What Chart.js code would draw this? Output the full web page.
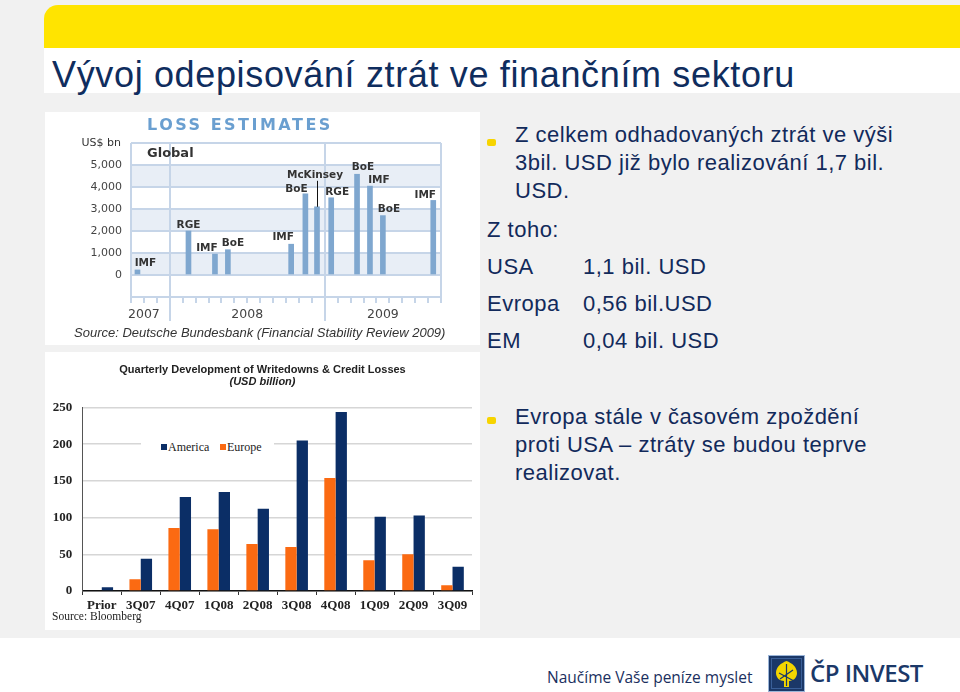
<!DOCTYPE html>
<html>
<head>
<meta charset="utf-8">
<script src="https://cdn.jsdelivr.net/npm/chart.js@4.4.1/dist/chart.umd.min.js"></script>
<style>
body{margin:0;width:960px;height:692px;background:#f1f1f1;position:relative;overflow:hidden;font-family:"Liberation Sans",Arial,sans-serif;color:#122a5b}
.abs{position:absolute}
#yellow{left:44px;top:5px;width:916px;height:43px;background:#ffe400;border-top-left-radius:14px}
#titlebar{left:44px;top:48px;width:916px;height:45px;background:#fff}
#title{left:52px;top:57px;font-size:36px;line-height:36px;letter-spacing:0.65px;white-space:nowrap;color:#0f2d5e}
#footer{left:0;top:638px;width:960px;height:54px;background:#fff}
.panel{background:#fff}
.txt{font-size:22px;letter-spacing:0.5px;white-space:nowrap}
.c1{display:inline-block;width:96px}
.bul{width:9px;height:7px;background:#f7d400;border-radius:2px}
.lossT{left:102px;top:5px;font:bold 16px/16px "DejaVu Sans";letter-spacing:2.5px;color:#6a9fd0;white-space:nowrap}
.small{font-family:"DejaVu Sans";color:#333;white-space:nowrap}
.serif{font-family:"Liberation Serif","Times New Roman",serif;color:#222;white-space:nowrap}
</style>
</head>
<body>
<div id="yellow" class="abs"></div>
<div id="titlebar" class="abs"></div>
<div id="title" class="abs">Vývoj odepisování ztrát ve finančním sektoru</div>

<!-- upper picture: loss estimates -->
<div class="abs panel" style="left:45px;top:112px;width:435px;height:233px">
  <canvas id="lossChart" width="435" height="233" class="abs" style="left:0;top:0"></canvas>
  <div class="abs lossT">LOSS ESTIMATES</div>
  <div class="abs small" style="right:359px;top:25px;font-size:11px;line-height:11px">US$ bn</div>
  <div class="abs small" style="left:102px;top:34px;font-size:13px;line-height:13px;font-weight:bold">Global</div>
  <div class="abs" style="left:29px;top:214px;font-size:13px;line-height:13px;font-style:italic;color:#333;white-space:nowrap">Source: Deutsche Bundesbank (Financial Stability Review 2009)</div>
</div>

<!-- lower picture: quarterly writedowns -->
<div class="abs panel" style="left:45px;top:352px;width:435px;height:278px">
  <canvas id="qChart" width="435" height="278" class="abs" style="left:0;top:0"></canvas>
  <div class="abs" style="left:0;top:12px;width:435px;text-align:center;font:bold 11px/11px 'Liberation Sans';color:#222">Quarterly Development of Writedowns &amp; Credit Losses</div>
  <div class="abs" style="left:0;top:24px;width:435px;text-align:center;font:italic bold 11px/11px 'Liberation Sans';color:#222">(USD billion)</div>
  <div id="legend" class="abs" style="left:96px;top:88px;width:133px;height:14px;background:#fff"></div>
  <div class="abs serif" style="left:7px;top:258px;font-size:11.5px;line-height:12px">Source: Bloomberg</div>
</div>

<!-- right text -->
<div class="abs bul" style="left:487px;top:139px"></div>
<div class="abs txt" style="left:515px;top:121px;line-height:28px">Z celkem odhadovaných ztrát ve výši<br>3bil. USD již bylo realizování 1,7 bil.<br>USD.</div>
<div class="abs txt" style="left:487px;top:211px;line-height:37px">Z toho:<br><span class="c1">USA</span>1,1 bil. USD<br><span class="c1">Evropa</span>0,56 bil.USD<br><span class="c1">EM</span>0,04 bil. USD</div>
<div class="abs bul" style="left:487px;top:417px"></div>
<div class="abs txt" style="left:515px;top:403px;line-height:28.2px">Evropa stále v časovém zpoždění<br>proti USA – ztráty se budou teprve<br>realizovat.</div>

<!-- footer -->
<div id="footer" class="abs"></div>
<div class="abs" style="left:547px;top:669px;font:15.5px/16px 'Open Sans';color:#1a2f5e;white-space:nowrap">Naučíme Vaše peníze myslet</div>
<svg class="abs" style="left:768px;top:655px" width="37" height="37" viewBox="0 0 37 37">
  <rect x="0.5" y="0.5" width="36" height="36" fill="#1b3868" stroke="#9bb5d8"/>
  <rect x="3.5" y="3.5" width="30" height="30" fill="#1b3868" stroke="#3a5f98"/>
  <path d="M18.5 6 C13 8 8 12 8 18 C8 23 12 26 16 26 L16 32 L21 32 L21 26 C25 26 29 23 29 18 C29 12 24 8 18.5 6Z" fill="#f2d500"/>
  <path d="M18.5 9 L18.5 31 M11 18 L26 26 M12 24 L25 15" stroke="#1b3868" stroke-width="1.2" fill="none"/>
</svg>
<div class="abs" style="left:810px;top:661px;font:600 24px/24px 'Open Sans';letter-spacing:-0.5px;color:#1b3868;white-space:nowrap">ČP INVEST</div>

<script>
// Loss estimates, x = months counted from Oct 2007
const lossMonths = [0.5, 4.45, 6.5, 7.5, 12.4, 13.5, 14.4, 15.5, 17.5, 18.5, 19.5, 23.4];
const lossValues = [230, 2000, 950, 1150, 1400, 3690, 3100, 3510, 4580, 4040, 2700, 3390];
const lossSources = ['IMF', 'RGE', 'IMF', 'BoE', 'IMF', 'BoE', 'McKinsey', 'RGE', 'BoE', 'IMF', 'BoE', 'IMF'];
const yearTicks = [1, 9, 19.5];
const yearLabels = ['2007', '2008', '2009'];
const yearBreaks = [3, 15];

// Quarterly writedowns & credit losses, USD bn
const quarters = ['Prior', '3Q07', '4Q07', '1Q08', '2Q08', '3Q08', '4Q08', '1Q09', '2Q09', '3Q09'];
const america = [5, 44, 128, 135, 112, 205, 244, 101, 103, 33];
const europe = [null, 16, 86, 84, 64, 60, 154, 42, 50, 8];

// label placement for the loss chart
const labelDx = [8, 0, -8, 5, -8, -9, -2, 6, 6, 9, 6, -8];
const labelDy = [-7, -6, -6, -6, -7, -5, -32, -6, -7, -6, -6, -5];
const blueGrid = '#c6d5e8';

const lossDecor = {
  id: 'lossDecor',
  beforeDraw(chart) {
    const { ctx, chartArea: a, scales: { y } } = chart;
    ctx.save();
    ctx.fillStyle = '#e8eef6';
    [[0, 1000], [2000, 3000], [4000, 5000]].forEach(([lo, hi]) => {
      const t = y.getPixelForValue(hi), b = y.getPixelForValue(lo);
      ctx.fillRect(a.left, t, a.right - a.left, b - t);
    });
    ctx.restore();
  },
  beforeDatasetsDraw(chart) {
    const { ctx, chartArea: a, scales: { x } } = chart;
    ctx.save();
    ctx.strokeStyle = blueGrid;
    ctx.lineWidth = 2;
    yearBreaks.forEach(m => {
      const px = Math.round(x.getPixelForValue(m));
      ctx.beginPath();
      ctx.moveTo(px, a.top);
      ctx.lineTo(px, a.bottom + 24);
      ctx.stroke();
    });
    ctx.restore();
  },
  afterDatasetsDraw(chart) {
    const { ctx } = chart;
    const meta = chart.getDatasetMeta(0);
    ctx.save();
    ctx.font = 'bold 10.5px "DejaVu Sans"';
    ctx.fillStyle = '#333';
    ctx.textAlign = 'center';
    ctx.textBaseline = 'middle';
    meta.data.forEach((el, i) => {
      const lx = el.x + labelDx[i], ly = el.y + labelDy[i];
      ctx.fillText(lossSources[i], lx, ly);
      if (labelDy[i] < -20) {
        // leader line (McKinsey)
        ctx.strokeStyle = '#111';
        ctx.lineWidth = 1;
        ctx.beginPath();
        ctx.moveTo(Math.round(el.x) + 0.5, ly + 6);
        ctx.lineTo(Math.round(el.x) + 0.5, el.y);
        ctx.stroke();
      }
    });
    ctx.restore();
  }
};

new Chart(document.getElementById('lossChart'), {
  type: 'bar',
  data: {
    datasets: [{
      data: lossMonths.map((m, i) => ({ x: m, y: lossValues[i] })),
      backgroundColor: '#7fa7cf',
      barThickness: 5
    }]
  },
  options: {
    responsive: false,
    animation: false,
    layout: { padding: { top: 31, right: 39, left: 0, bottom: 0 } },
    plugins: { legend: { display: false }, tooltip: { enabled: false } },
    scales: {
      x: {
        type: 'linear', min: 0, max: 24, offset: false,
        afterFit(s) { s.height = 48; },
        ticks: {
          stepSize: 0.5, autoSkip: false, maxRotation: 0, padding: 4.5, color: '#444',
          font: { family: 'DejaVu Sans', size: 12.5 },
          callback(v) { const i = yearTicks.indexOf(v); return i < 0 ? '' : yearLabels[i]; }
        },
        grid: {
          offset: false, drawOnChartArea: true, tickLength: 6, lineWidth: 2,
          color: c => (c.tick && (c.tick.value === 0 || c.tick.value === 24)) ? blueGrid : 'transparent',
          tickColor: c => (c.tick && Number.isInteger(c.tick.value)) ? blueGrid : 'transparent'
        },
        border: { display: false }
      },
      y: {
        min: -1000, max: 6000,
        afterFit(s) { s.width = 86; },
        ticks: {
          stepSize: 1000, padding: 9, color: '#444',
          font: { family: 'DejaVu Sans', size: 11 },
          callback: v => (v < 0 || v > 5000) ? '' : v.toLocaleString('en-US')
        },
        grid: { color: blueGrid, lineWidth: 2, drawTicks: false },
        border: { display: false }
      }
    }
  },
  plugins: [lossDecor]
});

const qChart = new Chart(document.getElementById('qChart'), {
  type: 'bar',
  data: {
    labels: quarters,
    datasets: [
      { label: 'Europe', data: europe, backgroundColor: '#fb6a12' },
      { label: 'America', data: america, backgroundColor: '#0b2e66' }
    ]
  },
  options: {
    responsive: false,
    animation: false,
    layout: { padding: { top: 55.5, right: 8, left: 0, bottom: 0 } },
    datasets: { bar: { categoryPercentage: 0.58, barPercentage: 1 } },
    plugins: { legend: { display: false }, tooltip: { enabled: false } },
    scales: {
      x: {
        afterFit(s) { s.height = 39; },
        ticks: { padding: 3, color: '#222', font: { family: 'Liberation Serif', size: 13, weight: 'bold' } },
        grid: { offset: true, drawOnChartArea: false, tickLength: 4, color: '#333' },
        border: { color: '#111', width: 1.5 }
      },
      y: {
        min: 0, max: 250,
        afterFit(s) { s.width = 37.3; },
        ticks: { stepSize: 50, padding: 10, color: '#222', font: { family: 'Liberation Serif', size: 13, weight: 'bold' } },
        grid: { color: '#d6d6d6', lineWidth: 1.5, drawTicks: false },
        border: { color: '#555', width: 1 }
      }
    }
  }
});

// legend inside the plot: America first, then Europe
const legend = document.getElementById('legend');
[1, 0].forEach((d, k) => {
  const ds = qChart.data.datasets[d];
  const left = [20, 79][k];
  legend.insertAdjacentHTML('beforeend',
    '<div class="abs" style="left:' + left + 'px;top:4px;width:6px;height:6px;background:' + ds.backgroundColor + '"></div>' +
    '<div class="abs serif" style="left:' + (left + 7) + 'px;top:0;font-size:12px;line-height:14px">' + ds.label + '</div>');
});
</script>
</body>
</html>
